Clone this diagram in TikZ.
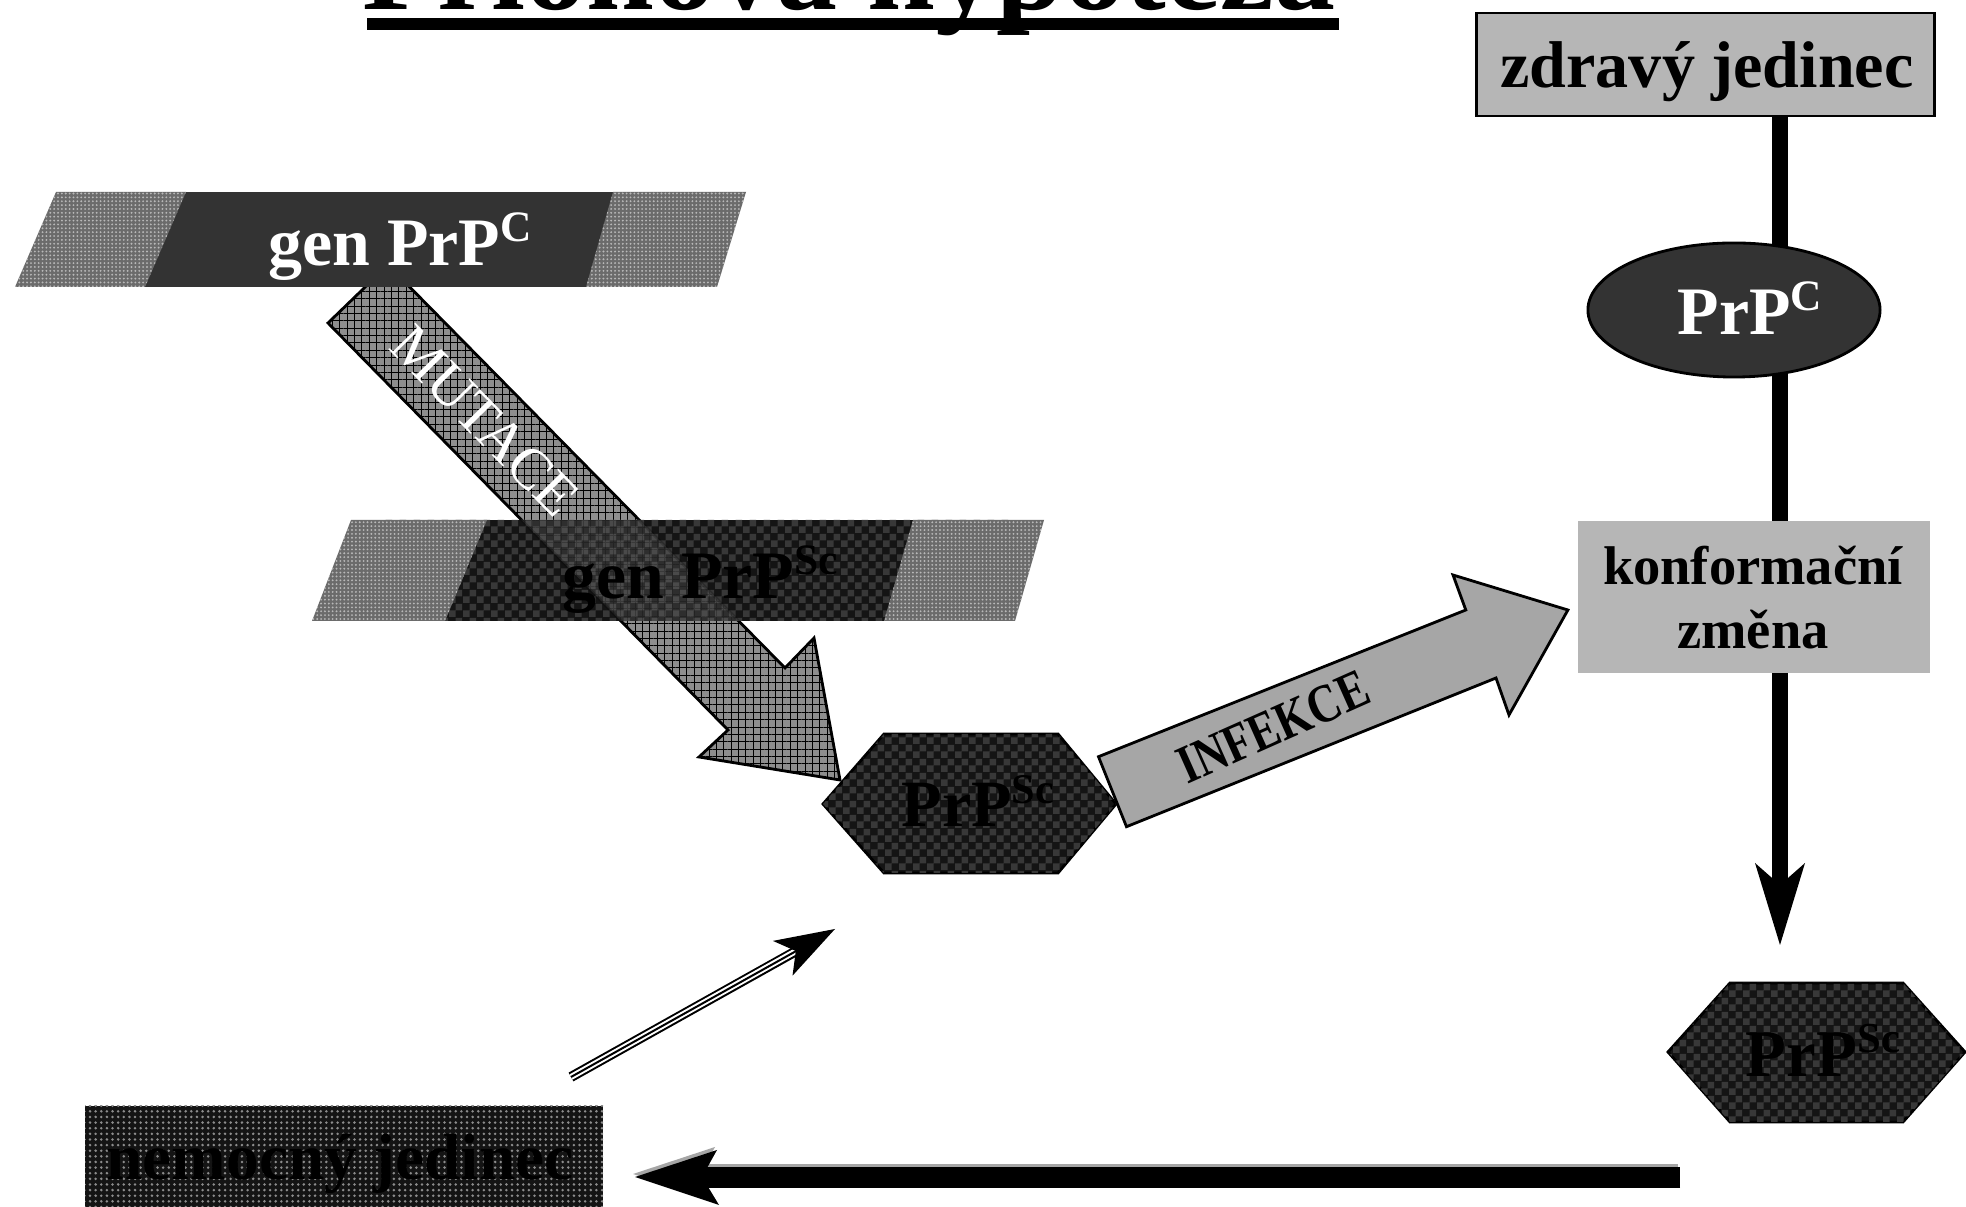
\documentclass[tikz,border=0pt]{standalone}
\usepackage{fontspec}
\setmainfont{Liberation Serif}
\usepackage{graphicx}
\usetikzlibrary{shapes.geometric,patterns,patterns.meta}

\definecolor{dk}{HTML}{333333}
\definecolor{lg}{HTML}{B6B6B6}
\definecolor{mg}{HTML}{A6A6A6}
\definecolor{hg}{HTML}{8E8E8E}

\pgfdeclarepatternformonly{mycheck}{\pgfpointorigin}{\pgfpoint{4pt}{4pt}}{\pgfpoint{4pt}{4pt}}{%
  \pgfpathrectangle{\pgfpointorigin}{\pgfpoint{2pt}{2pt}}%
  \pgfpathrectangle{\pgfpoint{2pt}{2pt}}{\pgfpoint{2pt}{2pt}}%
  \pgfusepath{fill}}

\newcommand\fsz[1]{\fontsize{#1}{#1}\selectfont}
\newcommand\supr[1]{\raisebox{0.36em}{\scalebox{0.64}{#1}}}
\newcommand\mutpath{(328,323) -- (388,265) -- (785,668) -- (814,638) -- (840,780) -- (699,757) -- (728,730) -- cycle}

\tikzset{
  txt/.style={inner sep=0pt},
  hatchfill/.style={fill=black!58, postaction={pattern={Dots[distance=1.1pt,radius=0.3pt]}, pattern color=black!28}},
  checkfill/.style={fill=black!92, postaction={pattern=mycheck, pattern color=black!78}},
  mutfill/.style={draw=black, line width=0.8pt, fill=hg, postaction={pattern={Hatch[distance=2.1pt,line width=0.25pt]}, pattern color=black}},
  nemfill/.style={fill=black!92, postaction={pattern={Dots[distance=1.6pt,radius=0.4pt]}, pattern color=black!45}},
  outl/.style={draw=black, line width=0.8pt}
}

\begin{document}
\begin{tikzpicture}[x=0.01cm,y=-0.01cm]
\clip (0,0) rectangle (1966,1207);
\fill[white] (0,0) rectangle (1966,1207);

% title (cut off at the top)
\node[txt, anchor=base west, font=\bfseries\fsz{34.7}] (title) at (362,10) {Prionová hypotéza};
\fill (367,18) rectangle (1339,30);

% MUTACE arrow
\coordinate (mtip) at (840,780);
\path[mutfill] \mutpath;
\node[txt, font=\fsz{16.5}, text=white, rotate=-45.6] (mut) at (485,421) {MUTACE};

% gen PrPC band
\fill[dk] (88,192) rectangle (715,287);
\path[hatchfill] (56,192) -- (186,192) -- (145,287) -- (15,287) -- cycle;
\path[hatchfill] (613,192) -- (746,192) -- (717,287) -- (586,287) -- cycle;
\node[txt, anchor=base, font=\bfseries\fsz{19.3}, text=white] (genc) at (400,266) {gen PrP\supr{C}};

% gen PrPSc band (dark, the arrow shows faintly through it)
\path[checkfill] (385,520) rectangle (1013,621);
\begin{scope}
\clip (385,520) rectangle (1013,621);
\path[mutfill, opacity=0.22] \mutpath;
\end{scope}
\path[hatchfill] (351,520) -- (487,520) -- (445,621) -- (312,621) -- cycle;
\path[hatchfill] (913,520) -- (1044,520) -- (1015,621) -- (884,621) -- cycle;
\node[txt, anchor=base, font=\bfseries\fsz{19.3}, text=black] (gensc) at (700,599) {gen PrP\supr{Sc}};

% middle PrPSc hexagon
\path[checkfill, outl] (823,804) -- (884,734) -- (1058,734) -- (1116,804) -- (1058,873) -- (884,873) -- cycle;
\node[txt, anchor=base, font=\bfseries\fsz{18.8}] (hexm) at (978,827) {PrP\supr{Sc}};

% INFEKCE arrow
\path[outl, fill=mg] (1098.5,756.7) -- (1465.8,610) -- (1453,575) -- (1567.9,610) -- (1509,715) -- (1496,678) -- (1126.5,826.7) -- cycle;
\node[txt, font=\bfseries\fsz{15.5}, rotate=24] (inf) at (1273,727) {\scalebox{0.82}[1]{INFEKCE}};

% right column
\coordinate (vtop) at (1780,116);
\coordinate (vend) at (1780,890);
\draw[line width=0.16cm] (vtop) -- (vend);
\fill (1780,945) -- (1755,863) -- (1780,885) -- (1805,863) -- cycle;

\node[draw, line width=0.8pt, fill=lg, minimum width=4.57cm, minimum height=1.03cm, inner sep=0pt] (zdrav) at (1705.5,64.5) {};
\node[txt, anchor=base, font=\bfseries\fsz{18.8}] (zdravt) at (1707,88) {zdravý jedinec};

\node[ellipse, draw, line width=0.8pt, fill=dk, minimum width=2.92cm, minimum height=1.34cm, inner sep=0pt] (ell) at (1734,310) {};
\node[txt, anchor=base, font=\bfseries\fsz{19.3}, text=white] (prpc) at (1750,335) {PrP\supr{C}};

\node[fill=lg, minimum width=3.52cm, minimum height=1.52cm, inner sep=0pt] (konf) at (1754,597) {};
\node[txt, align=center, font=\bfseries\fontsize{15.5}{18.2}\selectfont] (konft) at (1753,598) {konformační\\změna};

% right PrPSc hexagon
\path[checkfill, outl] (1668,1052) -- (1730,983) -- (1903,983) -- (1965,1052) -- (1903,1122) -- (1730,1122) -- cycle;
\node[txt, anchor=base, font=\bfseries\fsz{19}] (hexr) at (1823,1077) {PrP\supr{Sc}};

% bottom arrow (with light shadow)
\begin{scope}[shift={(-2,-3)}]
\draw[gray!70, line width=0.21cm] (1680,1177.5) -- (700,1177.5);
\fill[gray!70] (635,1177) -- (717,1150) -- (702,1177) -- (719,1205) -- cycle;
\end{scope}
\coordinate (bstart) at (1680,1177.5);
\coordinate (btip) at (635,1177);
\draw[line width=0.21cm] (bstart) -- (700,1177.5);
\fill (btip) -- (717,1150) -- (702,1177) -- (719,1205) -- cycle;

% nemocny jedinec box
\path[nemfill] (85,1106) rectangle (603,1230);
\node[txt, anchor=base, font=\bfseries\fsz{18.6}, text=black] (nem) at (340,1180) {nemocný jedinec};

% striped arrow
\coordinate (ds) at (571,1077);
\coordinate (dt) at (835,929);
\draw[line width=0.1cm] (ds) -- (798,950);
\draw[white, line width=0.06cm] (ds) -- (796,951);
\draw[line width=0.02cm] (ds) -- (798,950);
\fill (dt) -- (772.9,940.9) -- (795.8,951) -- (792.5,975.7) -- cycle;
\end{tikzpicture}
\end{document}
